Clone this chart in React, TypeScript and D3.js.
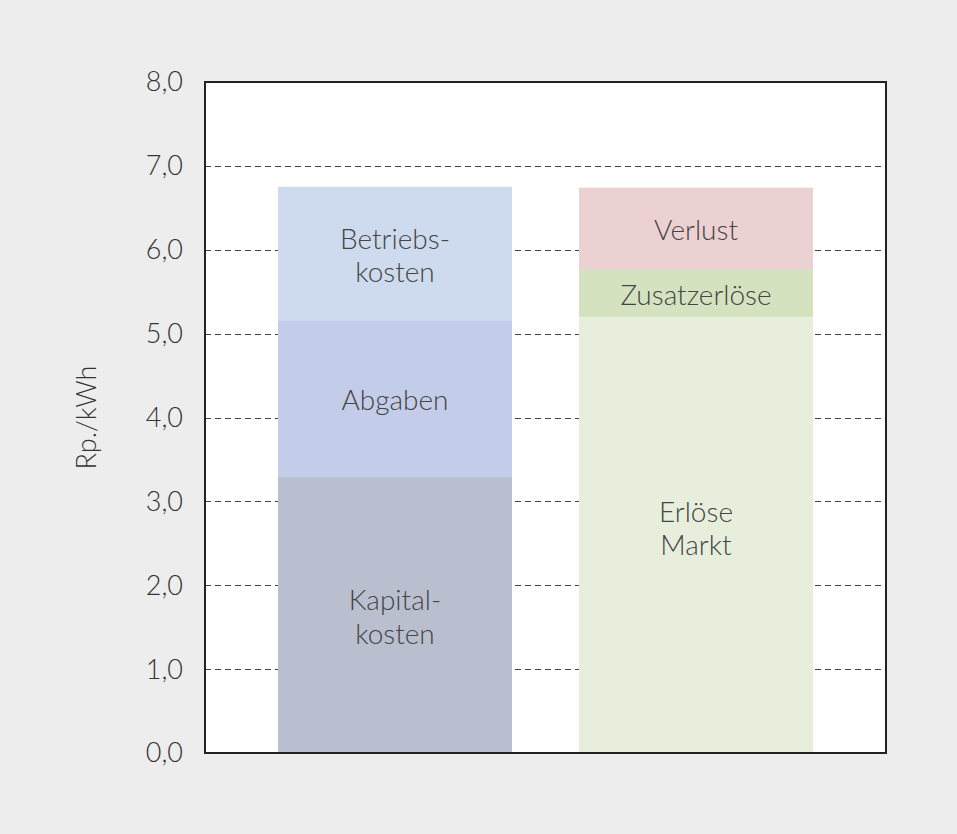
import { useEffect, useRef } from 'react';
import * as d3 from 'd3';

// Kategorien (Säulen)
const categories = ["Kosten", "Erlöse"];

// Segmente je Säule, von unten nach oben (Rp./kWh)
const kostenLabels = [["Kapital-", "kosten"], ["Abgaben"], ["Betriebs-", "kosten"]];
const kostenValues = [3.29, 1.87, 1.59];
const kostenColors = ["#b9bfcf", "#c3cce8", "#cedbee"];

const erloeseLabels = [["Erlöse", "Markt"], ["Zusatzerlöse"], ["Verlust"]];
const erloeseValues = [5.2, 0.57, 0.97];
const erloeseColors = ["#e7efdc", "#d4e2c0", "#ecd1d2"];

const yTicks = [0, 1, 2, 3, 4, 5, 6, 7, 8];
const yLabel = "Rp./kWh";

export default function App() {
    const svgRef = useRef<SVGSVGElement>(null);
    const width = 957;
    const height = 834;

    useEffect(() => {
        if (!svgRef.current) return;
        document.body.style.margin = "0";

        const svg = d3.select(svgRef.current);
        svg.selectAll("*").remove();

        const margin = { top: 82, right: 71, bottom: 81, left: 205 };
        const chartWidth = width - margin.left - margin.right;
        const chartHeight = height - margin.top - margin.bottom;
        const font = "Lato, 'Open Sans', sans-serif";

        svg.append("rect")
            .attr("width", width)
            .attr("height", height)
            .attr("fill", "#ededed");

        const g = svg.append("g")
            .attr("transform", `translate(${margin.left},${margin.top})`);

        const xScale = d3.scaleBand()
            .domain(categories)
            .range([0, chartWidth])
            .paddingInner(0.2226)
            .paddingOuter(0.2425);

        const yScale = d3.scaleLinear()
            .domain([0, 8])
            .range([chartHeight, 0]);

        // Plotfläche
        g.append("rect")
            .attr("width", chartWidth)
            .attr("height", chartHeight)
            .attr("fill", "#fff");

        // Gitterlinien gestrichelt
        g.append("g")
            .selectAll("line")
            .data(yTicks.filter(t => t > 0 && t < 8))
            .enter()
            .append("line")
            .attr("x1", 0)
            .attr("x2", chartWidth)
            .attr("y1", d => Math.round(yScale(d)) + 0.5)
            .attr("y2", d => Math.round(yScale(d)) + 0.5)
            .attr("stroke", "#444")
            .attr("stroke-width", 1)
            .attr("stroke-dasharray", "6,4");

        const series = [
            { cat: categories[0], values: kostenValues, colors: kostenColors, labels: kostenLabels },
            { cat: categories[1], values: erloeseValues, colors: erloeseColors, labels: erloeseLabels },
        ];

        series.forEach(s => {
            const cum = d3.cumsum(s.values);
            const x0 = xScale(s.cat) || 0;
            s.values.forEach((v, i) => {
                const top = cum[i];
                const bottom = top - v;
                g.append("rect")
                    .attr("x", x0)
                    .attr("y", yScale(top))
                    .attr("width", xScale.bandwidth())
                    .attr("height", yScale(bottom) - yScale(top))
                    .attr("fill", s.colors[i]);

                const lines = s.labels[i];
                // "Erlöse Markt" sitzt etwas oberhalb der Mitte
                const cy = (yScale(top) + yScale(bottom)) / 2 + 2 - (lines.length > 1 && bottom === 0 && s.cat === "Erlöse" ? 8 : 0);
                const lh = 33.5;
                const text = g.append("text")
                    .attr("text-anchor", "middle")
                    .attr("font-family", font)
                    .attr("font-weight", 300)
                    .attr("font-size", "28px")
                    .attr("fill", "#454545");
                lines.forEach((l, j) => {
                    text.append("tspan")
                        .attr("x", x0 + xScale.bandwidth() / 2)
                        .attr("y", cy - (lines.length - 1) * lh / 2 + j * lh)
                        .attr("dy", "0.35em")
                        .text(l);
                });
            });
        });

        // Rahmen
        g.append("rect")
            .attr("width", chartWidth)
            .attr("height", chartHeight)
            .attr("fill", "none")
            .attr("stroke", "#222")
            .attr("stroke-width", 2);

        // Y-Achse Beschriftung
        g.append("g")
            .selectAll("text")
            .data(yTicks)
            .enter()
            .append("text")
            .attr("x", -22)
            .attr("y", d => yScale(d))
            .attr("dy", "0.35em")
            .attr("text-anchor", "end")
            .attr("font-family", font)
            .attr("font-weight", 300)
            .attr("font-size", "27px")
            .attr("fill", "#333")
            .text(d => d.toFixed(1).replace(".", ","));

        svg.append("text")
            .attr("transform", `translate(87,${margin.top + chartHeight / 2}) rotate(-90)`)
            .attr("dy", "0.35em")
            .attr("text-anchor", "middle")
            .attr("font-family", font)
            .attr("font-weight", 300)
            .attr("font-size", "27px")
            .attr("fill", "#333")
            .text(yLabel);
    }, []);

    return (
        <svg
            ref={svgRef}
            width={width}
            height={height}
            style={{ position: "absolute", left: 0, top: 0, display: "block" }}
        />
    );
}
